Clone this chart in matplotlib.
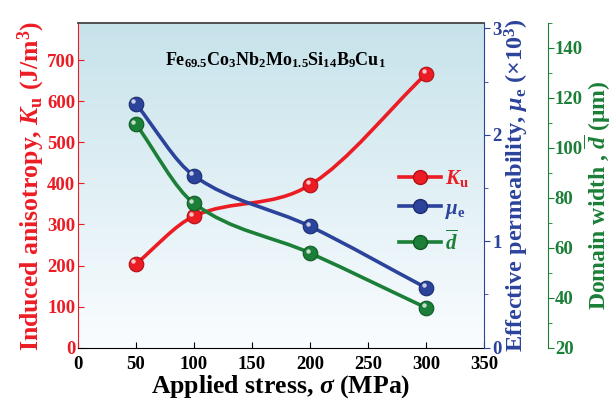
import matplotlib
matplotlib.use("Agg")
import matplotlib.pyplot as plt
import numpy as np
from matplotlib.path import Path
from matplotlib.patches import PathPatch
from matplotlib.lines import Line2D
from matplotlib.transforms import offset_copy
from matplotlib.ticker import MultipleLocator

# data
stress = [50, 100, 200, 300]
ku = [204, 320, 396, 666]              # J/m^3
mu_e = [2.29, 1.615, 1.14, 0.563]      # x10^3
domain_w = [109.5, 77.8, 57.9, 36.0]   # um

RED = "#ec1c24"
BLUE = "#2b439b"
GREEN = "#1b7f37"

plt.rcParams["font.family"] = ["Liberation Serif", "DejaVu Serif"]
plt.rcParams["font.weight"] = "bold"
plt.rcParams["axes.labelweight"] = "bold"
plt.rcParams["mathtext.fontset"] = "custom"
plt.rcParams["mathtext.rm"] = "Liberation Serif:bold"
plt.rcParams["mathtext.bf"] = "Liberation Serif:bold"
plt.rcParams["mathtext.it"] = "Liberation Serif:italic:bold"
plt.rcParams["mathtext.sf"] = "Liberation Serif:bold"


def smooth_path(x, y):
  
  """ cubic hermite curve through the points, as bezier path
  """
  
  x = np.asarray(x, float)
  y = np.asarray(y, float)
  n = len(x)
  m = np.zeros(n)
  m[0] = (y[1] - y[0]) / (x[1] - x[0])
  m[-1] = (y[-1] - y[-2]) / (x[-1] - x[-2])
  for i in range(1, n - 1):
    m[i] = (y[i + 1] - y[i - 1]) / (x[i + 1] - x[i - 1])
  verts = [(x[0], y[0])]
  codes = [Path.MOVETO]
  for i in range(n - 1):
    h = x[i + 1] - x[i]
    verts += [(x[i] + h / 3, y[i] + m[i] * h / 3),
              (x[i + 1] - h / 3, y[i + 1] - m[i + 1] * h / 3),
              (x[i + 1], y[i + 1])]
    codes += [Path.CURVE4] * 3
  return Path(verts, codes)


def ball_series(axis, x, y, color, edge):
  
  patch = PathPatch(smooth_path(x, y), facecolor="none", edgecolor=color,
                    lw=2.6, zorder=3)
  axis.add_patch(patch)
  axis.plot(x, y, "o", ms=10.5, mfc=color, mec=edge, mew=0.8, zorder=4)
  shine = offset_copy(axis.transData, fig=fig, x=-1.8, y=1.8, units="points")
  axis.plot(x, y, "o", ms=3.2, mfc="white", mec="none", alpha=0.75,
            transform=shine, zorder=5)


fig = plt.figure(figsize=(6.13, 4.03), dpi=100)
ax = fig.add_axes([0.1272, 0.1372, 0.6624, 0.8057])
ax2 = ax.twinx()
ax3 = ax.twinx()

# gradient background
grad = np.linspace(0, 1, 256).reshape(-1, 1)
top = np.array([0.78, 0.89, 0.92])
bottom = np.array([0.98, 0.99, 1.0])
img = bottom + (top - bottom) * grad[:, :, None] * np.ones((1, 1, 3))
ax.imshow(img, extent=[0, 1, 0, 1], transform=ax.transAxes, origin="lower",
          aspect="auto", zorder=0)

ball_series(ax, stress, ku, RED, "#b01015")
ball_series(ax2, stress, mu_e, BLUE, "#1c2d70")
ball_series(ax3, stress, domain_w, GREEN, "#105a25")

ax.set_xlim(0, 350)
ax.set_ylim(0, 790)
ax2.set_ylim(0, 3.05)
ax3.set_ylim(20, 150)

ax.set_xticks(np.arange(0, 351, 50))
ax.set_yticks(np.arange(0, 701, 100))
ax2.set_yticks([0, 1, 2, 3])
ax2.yaxis.set_minor_locator(MultipleLocator(0.5))
ax3.set_yticks(np.arange(20, 141, 20))
ax3.yaxis.set_minor_locator(MultipleLocator(10))

ax.tick_params(axis="x", direction="in", length=4, labelsize=13.5, pad=6,
               colors="black")
ax.tick_params(axis="y", direction="in", length=4, labelsize=13.5,
               colors=RED, pad=2)
ax2.tick_params(axis="y", which="major", direction="out", length=4,
                labelsize=13.5, colors=BLUE, pad=2)
ax2.tick_params(axis="y", which="minor", direction="out", length=3,
                colors=BLUE)
ax3.tick_params(axis="y", which="major", direction="out", length=4,
                labelsize=13.5, colors=GREEN, pad=1)
ax3.tick_params(axis="y", which="minor", direction="out", length=3,
                colors=GREEN)

ax.spines["right"].set_visible(False)
ax.spines["left"].set_color(RED)
ax.spines["bottom"].set_color("black")
ax.spines["top"].set_color("#444444")
ax.spines["top"].set_linewidth(1.3)
for a in (ax2, ax3):
  a.spines["left"].set_visible(False)
  a.spines["top"].set_visible(False)
  a.spines["bottom"].set_visible(False)
ax2.spines["right"].set_color(BLUE)
ax3.spines["right"].set_color(GREEN)
ax3.spines["right"].set_position(("outward", 46))

ax.set_xlabel(r"Applied stress, $\mathit{\sigma}$ (MPa)", fontsize=18.5,
              labelpad=0)
ax.set_ylabel(r"Induced anisotropy, $\mathit{K}_{\mathrm{u}}$ (J/m$^{3}$)",
              fontsize=18.5, color=RED, labelpad=0)
ax2.set_ylabel(r"Effective permeability, $\mathit{\mu}_{\mathrm{e}}$ ($\times$10$^{3}$)",
               fontsize=17.5, color=BLUE, labelpad=1)
fig.text(0.9755, 0.515, r"Domain width , $\overline{\mathit{d}}$ ($\mathrm{\mu}$m)",
         rotation=90, ha="center", va="center", fontsize=17, color=GREEN,
         fontweight="bold")

ax.text(170, 0.885, r"$\mathrm{Fe_{69.5}Co_{3}Nb_{2}Mo_{1.5}Si_{14}B_{9}Cu_{1}}$",
        transform=ax.get_xaxis_transform(), ha="center", va="center",
        fontsize=13, zorder=6)

handles = [Line2D([], [], color=RED, lw=2.6, marker="o", ms=10, mfc=RED,
                  mec="#b01015"),
           Line2D([], [], color=BLUE, lw=2.6, marker="o", ms=10, mfc=BLUE,
                  mec="#1c2d70"),
           Line2D([], [], color=GREEN, lw=2.6, marker="o", ms=10, mfc=GREEN,
                  mec="#105a25")]
labels = [r"$\mathit{K}_{\mathrm{u}}$", r"$\mathit{\mu}_{\mathrm{e}}$",
          r"$\overline{\mathit{d}}$"]
leg = ax3.legend(handles, labels, loc="center left",
                 bbox_to_anchor=(0.745, 0.42), frameon=False, fontsize=15,
                 handlelength=2.0, handletextpad=0.2, labelspacing=0.45,
                 labelcolor="linecolor")

fig.savefig("out.png", dpi=100)
